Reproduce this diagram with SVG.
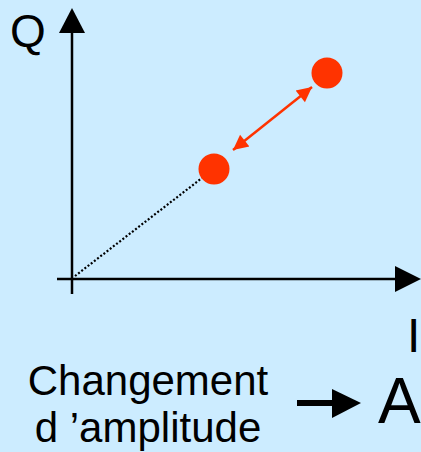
<svg xmlns="http://www.w3.org/2000/svg" width="421" height="452" viewBox="0 0 421 452">
  <style>
    .txt { font-family: "Liberation Sans", Arial, sans-serif; fill: #000; }
    .axis { stroke: #000; stroke-width: 2.5; fill: none; }
    .dot { fill: #FF3300; }
  </style>
  <defs>
    <marker id="redhead" viewBox="0 0 10 10" refX="10" refY="5" markerWidth="7" markerHeight="6" markerUnits="strokeWidth" orient="auto-start-reverse">
      <path d="M0,0 L10,5 L0,10 Z" fill="#FF3300"/>
    </marker>
  </defs>
  <rect width="421" height="452" fill="#CCECFF"/>
  <g id="connectors">
    <line class="axis" x1="72" y1="294" x2="72" y2="30"/>
    <polygon points="72,8 59,33 85,33" fill="#000"/>
    <line class="axis" x1="57" y1="279" x2="398" y2="279"/>
    <polygon points="421,279 395,266 395,292" fill="#000"/>
    <line x1="75" y1="276" x2="202" y2="178" stroke="#000" stroke-width="2.2" stroke-dasharray="2 2"/>
    <line x1="233" y1="150" x2="312" y2="87" stroke="#FF3300" stroke-width="2.5" marker-start="url(#redhead)" marker-end="url(#redhead)"/>
    <line x1="297" y1="403" x2="334" y2="403" stroke="#000" stroke-width="6"/>
    <polygon points="361,403 332,389 332,418" fill="#000"/>
  </g>
  <g id="point1"><circle class="dot" cx="214" cy="169" r="15.5"/></g>
  <g id="point2"><circle class="dot" cx="327" cy="73" r="15.5"/></g>
  <g id="label-Q"><text class="txt" x="10" y="47" font-size="46">Q</text></g>
  <g id="label-I"><text class="txt" x="407" y="352" font-size="48">I</text></g>
  <g id="label-change">
    <text class="txt" x="148" y="395" font-size="42" text-anchor="middle">Changement</text>
    <text class="txt" x="148" y="442" font-size="42" text-anchor="middle">d ’amplitude</text>
  </g>
  <g id="label-A"><text class="txt" x="378" y="423" font-size="64">A</text></g>
</svg>
